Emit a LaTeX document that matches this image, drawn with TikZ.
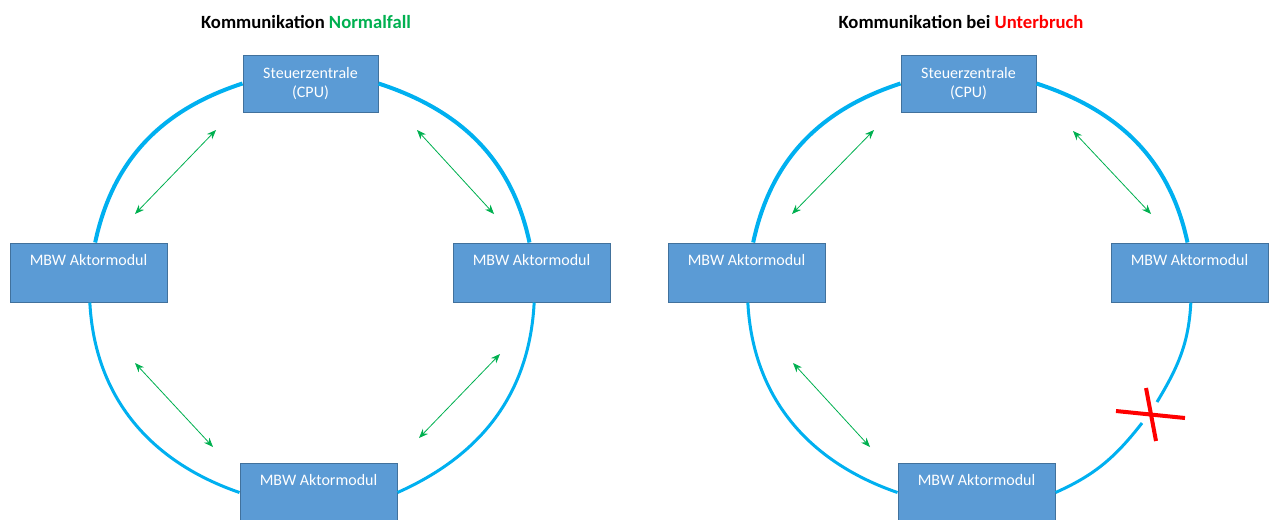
\documentclass[tikz,border=0pt]{standalone}
\usepackage{xcolor}
\usepackage{fontspec}
\setmainfont{Carlito}
\usetikzlibrary{positioning,arrows.meta}
\definecolor{kasten}{RGB}{91,155,213}
\definecolor{kastenrand}{RGB}{65,113,156}
\definecolor{ring}{RGB}{0,176,240}
\definecolor{gruen}{RGB}{0,176,80}
\definecolor{rot}{RGB}{255,0,0}

\begin{document}
\begin{tikzpicture}[x=0.75pt,y=-0.75pt,>={Stealth[length=7pt,width=5.5pt]}]
  \tikzstyle{modul}=[rectangle,fill=kasten,draw=kastenrand,line width=0.75pt,text=white,font=\fontsize{12}{14.5}\selectfont,align=center,minimum width=117.75pt,minimum height=44.25pt,inner sep=0pt]
  \tikzstyle{ringoben}=[draw=ring,line width=3pt]
  \tikzstyle{ringunten}=[draw=ring,line width=2.25pt]
  \tikzstyle{komm}=[<->,draw=gruen,line width=0.6pt]
  \tikzstyle{titel}=[font=\fontsize{14}{16}\selectfont\bfseries]
  \useasboundingbox (0,0) rectangle (1269,519);

  % Normalfall
  \node[titel] (titelA) at (306,22) {Kommunikation \textcolor{gruen}{Normalfall}};
  \node[modul, minimum width=101.25pt, minimum height=42.75pt] (cpuA) at (310.5,83.5) {Steuerzentrale\\(CPU)};
  \node[modul] (linksA) at (88.5,272.5) {MBW Aktormodul\\[4.5pt]~};
  \node[modul] (rechtsA) at (531.5,272.5) {MBW Aktormodul\\[4.5pt]~};
  \node[modul] (untenA) at (318.5,492.5) {MBW Aktormodul\\[4.5pt]~};
  \path (cpuA.west) edge[ringoben, out=198, in=78] ([xshift=5pt]linksA.north)
        (cpuA.east) edge[ringoben, out=-18, in=102] ([xshift=-1.5pt]rechtsA.north)
        ([xshift=1pt]linksA.south) edge[ringunten, out=-87, in=161] (untenA.west)
        (untenA.east) edge[ringunten, out=24, in=267] ([xshift=2pt]rechtsA.south);
  \coordinate (a1) at (216,130); \coordinate (a2) at (135,214);
  \coordinate (a3) at (417,130); \coordinate (a4) at (494,214);
  \coordinate (a5) at (135,363); \coordinate (a6) at (213,447);
  \coordinate (a7) at (500,354); \coordinate (a8) at (419,438);
  \draw[komm] (a1) -- (a2);
  \draw[komm] (a3) -- (a4);
  \draw[komm] (a5) -- (a6);
  \draw[komm] (a7) -- (a8);

  % Unterbruch
  \node[titel] (titelB) at (961,22) {Kommunikation bei \textcolor{rot}{Unterbruch}};
  \node[modul, minimum width=101.25pt, minimum height=42.75pt] (cpuB) at (968.5,83.5) {Steuerzentrale\\(CPU)};
  \node[modul] (linksB) at (746.5,272.5) {MBW Aktormodul\\[4.5pt]~};
  \node[modul] (rechtsB) at (1189.5,272.5) {MBW Aktormodul\\[4.5pt]~};
  \node[modul] (untenB) at (976.5,492.5) {MBW Aktormodul\\[4.5pt]~};
  \coordinate (bruchA) at (1142,423);
  \coordinate (bruchB) at (1157,402);
  \path (cpuB.west) edge[ringoben, out=198, in=78] ([xshift=5pt]linksB.north)
        (cpuB.east) edge[ringoben, out=-18, in=102] ([xshift=-1.5pt]rechtsB.north)
        ([xshift=1pt]linksB.south) edge[ringunten, out=-87, in=161] (untenB.west)
        (untenB.east) edge[ringunten, out=24, in=232] (bruchA)
        (bruchB) edge[ringunten, out=59, in=267] ([xshift=1pt]rechtsB.south);
  \coordinate (b1) at (874,130); \coordinate (b2) at (792,214);
  \coordinate (b3) at (1073,131); \coordinate (b4) at (1151,214);
  \coordinate (b5) at (793,363); \coordinate (b6) at (870,447);
  \draw[komm] (b1) -- (b2);
  \draw[komm] (b3) -- (b4);
  \draw[komm] (b5) -- (b6);
  \draw[rot, line width=3pt] (1116,411) -- (1185,418) (1146,388) -- (1156,441);
\end{tikzpicture}
\end{document}
